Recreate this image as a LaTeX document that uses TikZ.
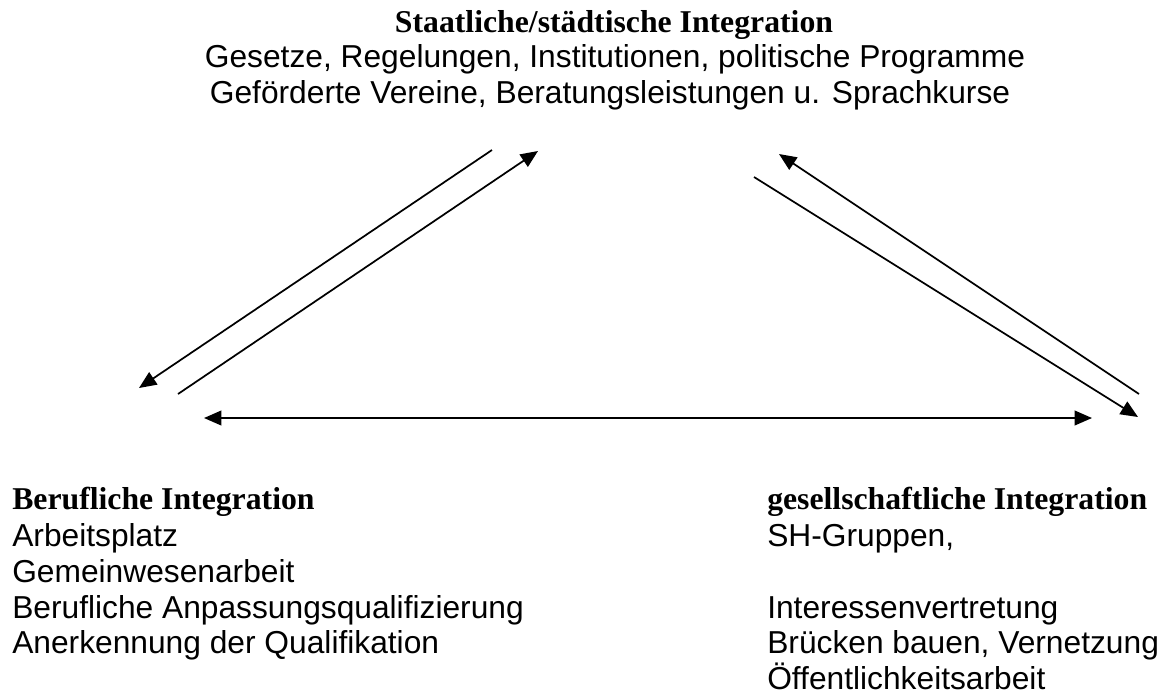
\documentclass[tikz,border=0pt]{standalone}
\usepackage{fontspec}
\setmainfont{Liberation Serif}
\setsansfont{Liberation Sans}
\usetikzlibrary{arrows.meta}
\tikzset{head/.style={font=\rmfamily\bfseries\fontsize{23.8}{27}\selectfont,inner sep=0pt},
  item/.style={font=\sffamily\fontsize{23.8}{27}\selectfont,inner sep=0pt},
  spitze/.tip={Triangle[length=13pt,width=11pt]},
  pfeil/.style={line width=1.3pt,-spitze}}
\begin{document}
\begin{tikzpicture}[x=0.75pt,y=-0.75pt]
\useasboundingbox (0,0) rectangle (1168,694);
% oben
\node[head,anchor=base] (staat) at (614,32) {Staatliche/städtische Integration};
\node[item,anchor=base] (staat1) at (615,67) {Gesetze, Regelungen, Institutionen, politische Programme};
\node[item,anchor=base] (staat2) at (610,103) {Geförderte Vereine, Beratungsleistungen u. Sprachkurse};
% links unten
\node[head,anchor=base west] (beruf) at (12,509) {Berufliche Integration};
\foreach \y/\t [count=\i] in {546/Arbeitsplatz,582/Gemeinwesenarbeit,618/Berufliche Anpassungsqualifizierung,653/Anerkennung der Qualifikation}
  \node[item,anchor=base west] (beruf\i) at (12,\y) {\t};
% rechts unten
\node[head,anchor=base west] (ges) at (767,509) {gesellschaftliche Integration};
\foreach \y/\t [count=\i] in {{546/SH-Gruppen,},618/Interessenvertretung,{653/Brücken bauen, Vernetzung},689/Öffentlichkeitsarbeit}
  \node[item,anchor=base west] (ges\i) at (767,\y) {\t};
% Pfeile
\coordinate (a1) at (492,150); \coordinate (a2) at (139,388);
\coordinate (b1) at (178,394); \coordinate (b2) at (538,151);
\coordinate (c1) at (1139,394); \coordinate (c2) at (779,154);
\coordinate (d1) at (754,177); \coordinate (d2) at (1138,417);
\coordinate (h1) at (204,418); \coordinate (h2) at (1092,418);
\draw[pfeil](a1)--(a2);
\draw[pfeil](b1)--(b2);
\draw[pfeil](c1)--(c2);
\draw[pfeil](d1)--(d2);
\draw[pfeil,spitze-spitze](h1)--(h2);
\end{tikzpicture}
\end{document}
